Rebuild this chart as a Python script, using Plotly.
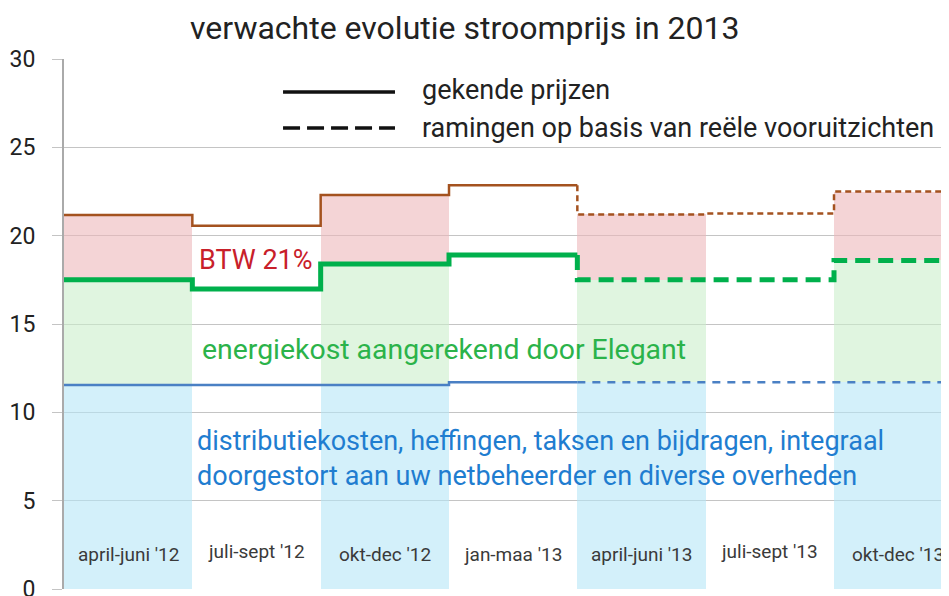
import plotly.graph_objects as go

# ---- data ----
quarters = ["april-juni '12", "juli-sept '12", "okt-dec '12", "jan-maa '13",
            "april-juni '13", "juli-sept '13", "okt-dec '13"]
distributie = [11.55, 11.55, 11.55, 11.7, 11.7, 11.7, 11.7]
energie_totaal = [17.5, 16.98, 18.4, 18.9, 17.5, 17.5, 18.6]   # distributie + energiekost
incl_btw = [21.17, 20.56, 22.3, 22.85, 21.2, 21.25, 22.5]       # totaal incl. BTW
n_known = 4  # first 4 quarters are known prices, the rest are estimates
filled = [0, 2, 4, 6]  # quarters with coloured background

title = "verwachte evolutie stroomprijs in 2013"
legend_labels = ["gekende prijzen", "ramingen op basis van reële vooruitzichten"]
lbl_btw = "BTW 21%"
lbl_energie = "energiekost aangerekend door Elegant"
lbl_distr = ["distributiekosten, heffingen, taksen en bijdragen, integraal",
             "doorgestort aan uw netbeheerder en diverse overheden"]

FONT = "Roboto"
BROWN = "#a4521f"
GREEN = "#00b04c"
BLUE = "#4a80c4"

fig = go.Figure()

# ---- background fills (semi-transparent so grid shows through) ----
xc = [i + 0.5 for i in filled]
fig.add_trace(go.Bar(x=xc, y=[distributie[i] for i in filled], base=0, width=1,
                     marker=dict(color="rgba(182,230,246,0.6)", line_width=0), hoverinfo="skip"))
fig.add_trace(go.Bar(x=xc, y=[energie_totaal[i] - distributie[i] for i in filled],
                     base=[distributie[i] for i in filled], width=1,
                     marker=dict(color="rgba(203,238,203,0.6)", line_width=0), hoverinfo="skip"))
fig.add_trace(go.Bar(x=xc, y=[incl_btw[i] - energie_totaal[i] for i in filled],
                     base=[energie_totaal[i] for i in filled], width=1,
                     marker=dict(color="rgba(237,183,187,0.6)", line_width=0), hoverinfo="skip"))


def step_traces(vals, color, width, dash):
    xs_known = list(range(n_known + 1))
    ys_known = vals[:n_known] + [vals[n_known - 1]]
    fig.add_trace(go.Scatter(x=xs_known, y=ys_known, mode="lines", line_shape="hv",
                             line=dict(color=color, width=width), hoverinfo="skip"))
    xs_est = [n_known] + list(range(n_known, len(vals) + 1))
    ys_est = [vals[n_known - 1]] + vals[n_known:] + [vals[-1]]
    fig.add_trace(go.Scatter(x=xs_est, y=ys_est, mode="lines", line_shape="hv",
                             line=dict(color=color, width=width, dash=dash), hoverinfo="skip"))


step_traces(distributie, BLUE, 2.5, "8px,7px")
step_traces(energie_totaal, GREEN, 5, "15px,8px")
step_traces(incl_btw, BROWN, 2.5, "6px,4px")

ann = []
# quarter labels
for i, q in enumerate(quarters):
    ann.append(dict(x=i + 0.5, y=2.15 if "juli" in q else 1.95, text=q, showarrow=False,
                    font=dict(family=FONT, size=19, color="#3a3a3a")))
ann.append(dict(x=1.035, y=18.62, text=lbl_btw, showarrow=False, xanchor="left",
                font=dict(family=FONT, size=27, color="#c8202a")))
ann.append(dict(x=1.06, y=13.55, text=lbl_energie, showarrow=False, xanchor="left",
                font=dict(family=FONT, size=28.4, color="#2bb34a")))
ann.append(dict(x=1.02, y=8.35, text=lbl_distr[0], showarrow=False, xanchor="left",
                font=dict(family=FONT, size=27, color="#1f7dd0")))
ann.append(dict(x=1.02, y=6.42, text=lbl_distr[1], showarrow=False, xanchor="left",
                font=dict(family=FONT, size=27, color="#1f7dd0")))
# title
ann.append(dict(x=0.453, y=1.059, xref="paper", yref="paper", text=title, showarrow=False,
                xanchor="center", yanchor="middle",
                font=dict(family=FONT, size=32, color="#222222")))
# legend
ann.append(dict(x=0.4023, y=0.941, xref="paper", yref="paper", text=legend_labels[0],
                showarrow=False, xanchor="left", yanchor="middle",
                font=dict(family=FONT, size=27, color="#222222")))
ann.append(dict(x=0.4023, y=0.870, xref="paper", yref="paper", text=legend_labels[1],
                showarrow=False, xanchor="left", yanchor="middle",
                font=dict(family=FONT, size=27, color="#222222")))

shapes = [
    dict(type="line", xref="paper", yref="paper", x0=0.2475, x1=0.374, y0=0.9377, y1=0.9377,
         line=dict(color="#111111", width=3.5)),
    dict(type="line", xref="paper", yref="paper", x0=0.2475, x1=0.374, y0=0.8698, y1=0.8698,
         line=dict(color="#111111", width=3.5, dash="17px,7px")),
]

# the page body has an 8px margin, so the figure is sized to fill the rest of the window
fig.update_layout(
    width=941, height=588,
    margin=dict(l=56, r=0, t=51, b=7),
    paper_bgcolor="white", plot_bgcolor="white",
    showlegend=False, barmode="overlay", bargap=0,
    annotations=ann, shapes=shapes,
    xaxis=dict(range=[0, 6.896], showgrid=False, zeroline=False, showticklabels=False,
               ticks="", showline=False, automargin=False),
    yaxis=dict(range=[0, 30], dtick=5, showgrid=True, gridcolor="#c4c4c4", gridwidth=1.3,
               zeroline=False, ticks="outside", ticklen=10, tickcolor="#c4c4c4", tickwidth=1.3,
               showline=True, linecolor="#aaaaaa", linewidth=2, automargin=False,
               ticklabelstandoff=12, ticklabeloverflow="allow",
               tickfont=dict(family=FONT, size=23, color="#222222")),
)

fig.write_html("out.html")
